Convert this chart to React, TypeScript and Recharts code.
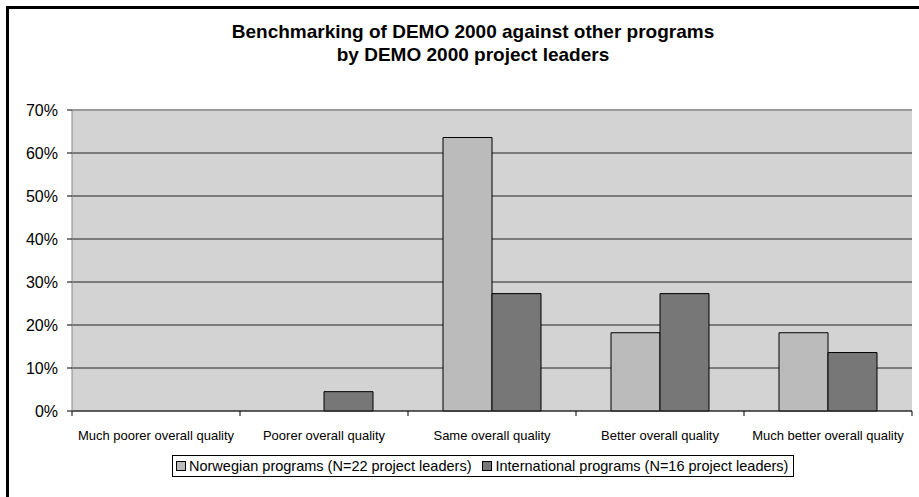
import { FC } from "react";
import {
  BarChart,
  Bar,
  CartesianGrid,
  XAxis,
  YAxis,
  Legend,
  ReferenceLine,
} from "recharts";

const categories = [
  "Much poorer overall quality",
  "Poorer overall quality",
  "Same overall quality",
  "Better overall quality",
  "Much better overall quality",
];
const norwegian = [0, 0, 63.6, 18.2, 18.2];
const international = [0, 4.5, 27.3, 27.3, 13.6];
const yTicks = [0, 10, 20, 30, 40, 50, 60, 70];

const seriesNames = {
  norwegian: "Norwegian programs (N=22 project leaders)",
  international: "International programs (N=16 project leaders)",
};

const W = 919;
const H = 497;
const xAxisHeight = 30;
const margin = { top: 110, right: 7, left: 0, bottom: 86 - xAxisHeight };
const yAxisWidth = 72;
const font = "'Liberation Sans', Arial, sans-serif";

const data = categories.map((c, i) => ({
  name: c,
  norwegian: norwegian[i],
  international: international[i],
}));

const plotWidth = W - margin.left - margin.right - yAxisWidth;
const half = plotWidth / categories.length / 2;

const XTick = (props: any) => {
  const { x, y, payload, index } = props;
  return (
    <g>
      <line x1={x - half} x2={x - half} y1={y} y2={y + 5} stroke="#000" />
      {index === categories.length - 1 && (
        <line x1={x + half} x2={x + half} y1={y} y2={y + 5} stroke="#000" />
      )}
      <text
        x={x}
        y={y + 29}
        textAnchor="middle"
        fontSize={13}
        fontFamily={font}
        fill="#000"
      >
        {payload.value}
      </text>
    </g>
  );
};

const swatch = (color: string) => (
  <span
    style={{
      width: 8,
      height: 8,
      border: "1px solid #000",
      background: color,
      marginRight: 3,
    }}
  />
);

const LegendBox = () => (
  <div
    style={{
      display: "inline-flex",
      alignItems: "center",
      border: "1px solid #000",
      background: "#fff",
      padding: "2px 5px 2px 3px",
      fontSize: 14.5,
      fontFamily: font,
      color: "#000",
      whiteSpace: "nowrap",
    }}
  >
    {swatch("#bbbbbb")}
    <span style={{ marginRight: 11 }}>{seriesNames.norwegian}</span>
    {swatch("#777777")}
    <span>{seriesNames.international}</span>
  </div>
);

const App: FC = () => {
  return (
    <div
      style={{
        position: "absolute",
        left: 0,
        top: 0,
        width: W,
        height: H,
        background: "#fff",
        fontFamily: font,
        overflow: "hidden",
      }}
    >
      <div
        style={{
          position: "absolute",
          left: 6,
          top: 6,
          width: W,
          height: H,
          borderTop: "3px solid #000",
          borderLeft: "3px solid #000",
        }}
      />
      <div
        style={{
          position: "absolute",
          left: 173,
          top: 20,
          width: 600,
          textAlign: "center",
          fontWeight: "bold",
          fontSize: 19,
          lineHeight: "23px",
          color: "#000",
        }}
      >
        Benchmarking of DEMO 2000 against other programs
        <br />
        by DEMO 2000 project leaders
      </div>
      <BarChart
        width={W}
        height={H}
        data={data}
        margin={margin}
        barCategoryGap={35}
        barGap={0}
      >
        <CartesianGrid
          vertical={false}
          stroke="#222"
          fill="#d3d3d3"
          fillOpacity={1}
        />
        <ReferenceLine y={70} stroke="#999" strokeWidth={2} />
        <XAxis
          dataKey="name"
          height={xAxisHeight}
          interval={0}
          tickLine={false}
          tickSize={0}
          tickMargin={0}
          tick={<XTick />}
          axisLine={{ stroke: "#333" }}
        />
        <YAxis
          width={yAxisWidth}
          domain={[0, 70]}
          ticks={yTicks}
          tickFormatter={(v) => `${v}%`}
          tickSize={5}
          tickMargin={9}
          tickLine={{ stroke: "#000" }}
          axisLine={{ stroke: "#888" }}
          tick={{ fontSize: 16, fill: "#000", fontFamily: font }}
        />
        <YAxis
          yAxisId="r"
          orientation="right"
          width={0}
          domain={[0, 70]}
          tick={false}
          tickLine={false}
          axisLine={{ stroke: "#999", strokeWidth: 2 }}
        />
        <Legend
          layout="horizontal"
          verticalAlign="middle"
          content={<LegendBox />}
          wrapperStyle={{ left: 172, top: 455, width: "auto", bottom: "auto" }}
        />
        <Bar
          dataKey="norwegian"
          name={seriesNames.norwegian}
          fill="#bbbbbb"
          stroke="#000"
          strokeWidth={1}
          isAnimationActive={false}
        />
        <Bar
          dataKey="international"
          name={seriesNames.international}
          fill="#777777"
          stroke="#000"
          strokeWidth={1}
          isAnimationActive={false}
        />
      </BarChart>
    </div>
  );
};

export default App;
